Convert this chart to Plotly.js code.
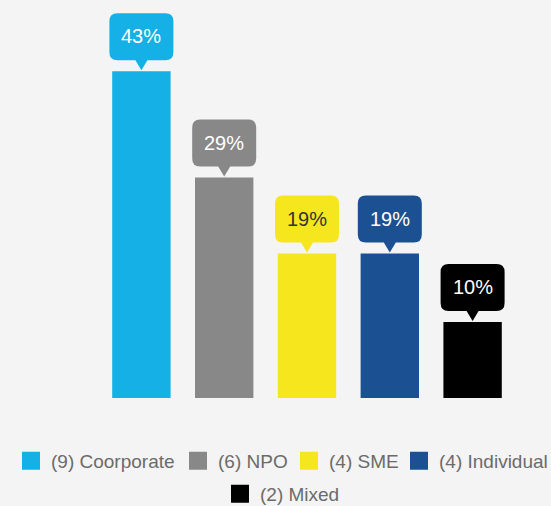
<!DOCTYPE html>
<html>
<head>
<meta charset="utf-8">
<script src="https://cdn.plot.ly/plotly-3.0.1.min.js"></script>
<style>
  html, body { margin: 0; padding: 0; background: #f4f4f4; }
  #chart { width: 551px; height: 506px; }
</style>
</head>
<body>
<div id="chart"></div>
<script>
// ---- data ----
const categories = ["Coorporate", "NPO", "SME", "Individual", "Mixed"];
const counts = [9, 6, 4, 4, 2];
const percents = [43, 29, 19, 19, 10];
const colors = ["#14b0e6", "#888888", "#f6e61e", "#1b5192", "#000000"];
const labelColors = ["#ffffff", "#ffffff", "#333333", "#ffffff", "#ffffff"];
const legendNames = categories.map((c, i) => "(" + counts[i] + ") " + c);

const FONT = "Liberation Sans, Arial, Helvetica, sans-serif";
const W = 551, H = 506;

// legend item placement (text left edge px, row centre px)
const legendTextX = [49, 216, 327, 437, 258];
const legendRowY = [461, 461, 461, 461, 494];
const legendIds = ["legend", "legend2", "legend3", "legend4", "legend5"];

const traces = [];
categories.forEach((c, i) => {
  traces.push({
    type: "bar",
    x: [c],
    y: [percents[i]],
    width: 0.705,
    marker: { color: colors[i] },
    showlegend: false,
    hoverinfo: "skip"
  });
});
categories.forEach((c, i) => {
  traces.push({
    type: "scatter",
    mode: "markers",
    x: [null],
    y: [null],
    name: legendNames[i],
    marker: { symbol: "square", size: 16, color: colors[i], line: { color: colors[i], width: 2 } },
    legend: legendIds[i],
    hoverinfo: "skip"
  });
});

const bubblePath = "M0,1 L6,11 L24,11 Q32,11 32,19 L32,50 Q32,58 24,58 L-24,58 Q-32,58 -32,50 L-32,19 Q-32,11 -24,11 L-6,11 Z";
const shapes = categories.map((c, i) => ({
  type: "path",
  xref: "x", yref: "y",
  xsizemode: "pixel", ysizemode: "pixel",
  xanchor: i, yanchor: percents[i],
  path: bubblePath,
  fillcolor: colors[i],
  line: { width: 0 },
  layer: "above"
}));

const annotations = categories.map((c, i) => ({
  x: c, y: percents[i],
  xref: "x", yref: "y",
  yshift: 35,
  text: percents[i] + "%",
  showarrow: false,
  xanchor: "center", yanchor: "middle",
  font: { family: FONT, size: 20, color: labelColors[i] }
}));

const layout = {
  width: W, height: H,
  margin: { l: 100, r: 37, t: 10, b: 108 },
  paper_bgcolor: "#f4f4f4",
  plot_bgcolor: "#f4f4f4",
  barmode: "overlay",
  xaxis: {
    type: "category",
    categoryorder: "array",
    categoryarray: categories,
    range: [-0.5, 4.5],
    showgrid: false, zeroline: false, showline: false,
    showticklabels: false, ticks: ""
  },
  yaxis: {
    range: [0, 51.05],
    showgrid: false, zeroline: false, showline: false,
    showticklabels: false, ticks: ""
  },
  shapes: shapes,
  annotations: annotations,
  showlegend: true,
  hovermode: false
};

legendIds.forEach((id, i) => {
  layout[id] = {
    orientation: "h",
    xref: "container", yref: "container",
    x: (legendTextX[i] - 38) / W, xanchor: "left",
    y: 1 - legendRowY[i] / H, yanchor: "middle",
    bgcolor: "rgba(0,0,0,0)",
    borderwidth: 0,
    font: { family: FONT, size: 19, color: "#6b6b6b" }
  };
});

Plotly.newPlot("chart", traces, layout, { displayModeBar: false, staticPlot: true });
</script>
</body>
</html>
